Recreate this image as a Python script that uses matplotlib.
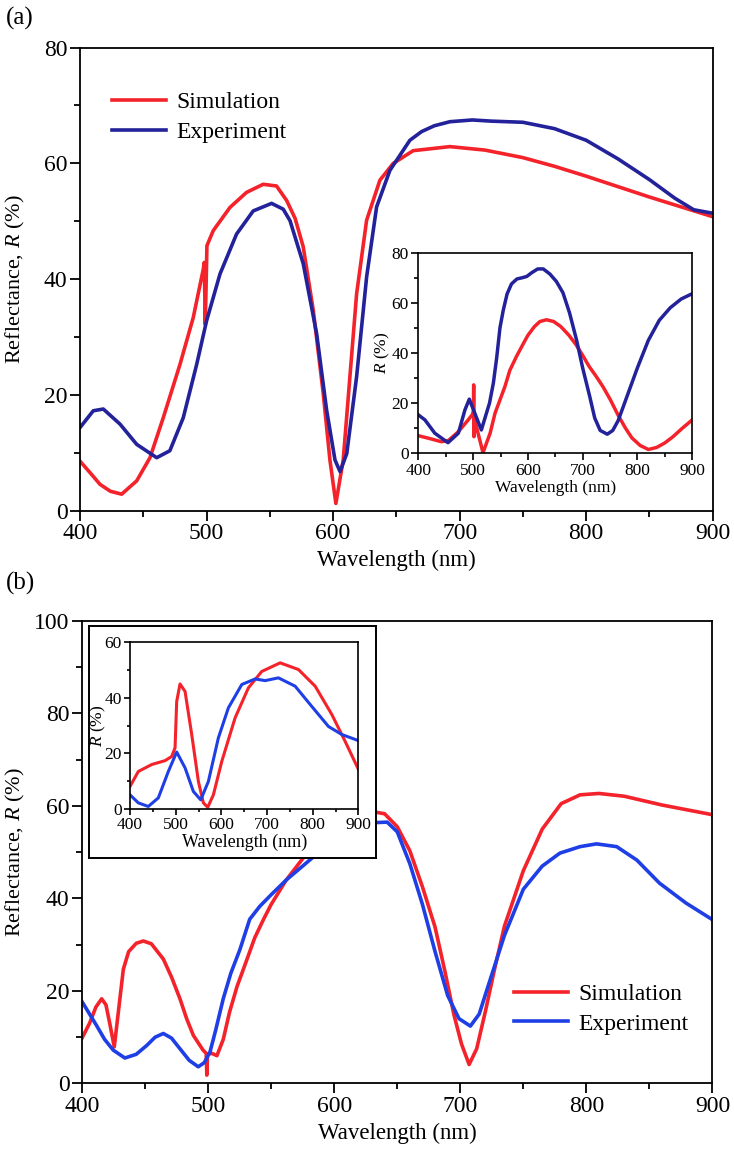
import matplotlib
matplotlib.use('Agg')
import matplotlib.pyplot as plt
from matplotlib.ticker import MultipleLocator

plt.rcParams['font.family'] = 'Liberation Serif'
plt.rcParams['mathtext.fontset'] = 'custom'
plt.rcParams['mathtext.rm'] = 'Liberation Serif'
plt.rcParams['mathtext.it'] = 'Liberation Serif:italic'

RED = '#f4222a'
BLUE_A = '#23229a'
BLUE_B = '#1f3fe6'

# ---- panel (a), main plot
a_sim_x = [400, 408, 415.8, 424, 432.9, 444.8, 455.3, 465.8, 479, 489.5, 497.4, 498.2, 499, 500.3,
           505.3, 518.5, 531.6, 544.8, 555.3, 563.3, 570, 576.4, 584.3, 592.2, 597.5, 602.2,
           608, 613.3, 618.6, 626.5, 637, 647.5, 663.3, 692.3, 720, 750, 775, 800, 850, 900]
a_sim_y = [8.6, 6.6, 4.6, 3.4, 2.9, 5.2, 9.2, 16.1, 25.3, 33.4, 41.7, 42.9, 32.2, 45.8,
           48.4, 52.4, 55, 56.4, 56.1, 53.6, 50.5, 45.6, 34.7, 20.3, 8.8, 1.3,
           8.8, 23.2, 37.5, 50.2, 57.1, 60, 62.2, 62.9, 62.3, 61, 59.5, 57.8, 54.2, 50.8]
a_exp_x = [400, 410.5, 418.4, 431.6, 444.8, 460.6, 471, 481.6, 492.2, 500, 510.6, 523.7, 536.9,
           551.4, 560.6, 566, 576.4, 587, 594.9, 601.5, 605.5, 610.8, 618.6, 626.5, 634.4,
           644.9, 660.7, 670, 680, 692.3, 710, 725, 750, 775, 800, 825, 850, 870, 885, 900]
a_exp_y = [14.4, 17.3, 17.6, 15, 11.5, 9.2, 10.4, 16.1, 25.3, 32.8, 40.9, 47.8, 51.8,
           53.1, 52.1, 50.1, 42.7, 30.6, 17.4, 8.8, 6.8, 9.9, 23.2, 40.4, 52.5,
           58.8, 64, 65.5, 66.5, 67.2, 67.5, 67.3, 67.1, 66, 64, 60.8, 57.2, 54, 52, 51.4]

# ---- panel (a), inset
ai_sim_x = [400, 420, 442, 455, 473, 491, 499, 500.5, 501, 501.5, 502, 510, 518, 531, 540, 558,
            567, 579, 590, 600, 612, 622, 634, 647, 660, 675, 688, 700, 712, 725, 737, 750, 765,
            778, 790, 805, 820, 835, 850, 865, 880, 900]
ai_sim_y = [6.9, 5.8, 4.5, 5.0, 8.5, 13.2, 15.5, 17, 27.2, 6.5, 14, 7, 0.1, 7.9, 15.9, 26.5,
            33, 38.5, 43, 47, 50.5, 52.5, 53.2, 52.5, 50.5, 47, 43.2, 39, 34.5, 30.5, 26.5, 21.5,
            15, 10, 6, 3, 1.4, 2.2, 4, 6.5, 9.5, 13.2]
ai_exp_x = [400, 412, 430, 454, 473, 485, 493, 503, 515, 530, 537, 543, 549, 555, 562, 570, 580,
            590, 598, 607, 618, 628, 640, 652, 664, 676, 689, 700, 713, 722, 732, 745, 755, 765,
            780, 800, 820, 840, 860, 880, 900]
ai_exp_y = [15.2, 13.2, 7.9, 4.1, 7.9, 17.2, 21.5, 15.9, 9.2, 20, 28, 38, 50, 57, 63.5, 67.5,
            69.5, 70, 70.5, 72, 73.5, 73.5, 71.5, 68.5, 64, 56, 45, 34, 22.5, 14, 9, 7.5, 9, 13,
            22, 34, 45, 53, 58, 61.5, 63.6]

# ---- panel (b), main plot
b_sim_x = [400, 406, 411, 415.6, 419, 422, 425.6, 432.8, 437, 443, 448.6, 455, 464.5, 471, 477.7,
           483, 488.3, 496, 498.5, 499, 499.5, 503, 507, 512, 517, 523, 530, 537, 544, 550, 562,
           575, 590, 605, 620, 630, 640, 650, 660, 670, 680, 688, 695, 701, 707, 713, 720, 727,
           735, 750, 765, 780, 795, 810, 830, 860, 900]
b_sim_y = [9.8, 13, 16.5, 18.3, 17, 13, 7.9, 24.7, 28.5, 30.3, 30.8, 30.2, 26.9, 23, 18.3,
           14, 10.4, 7.2, 6.5, 1.8, 6.3, 6.5, 6.0, 9.5, 15.4, 21, 26.2, 31.5, 35.5, 38.7, 44,
           48.6, 53.5, 56.8, 58.5, 58.8, 58.3, 55.5, 50.3, 42.5, 33.8, 24, 14.8, 8.5, 4.1, 7.5,
           15.7, 24.5, 34, 46, 55, 60.5, 62.4, 62.7, 62.1, 60.2, 58.1]
b_exp_x = [400, 411.6, 418, 424.8, 434, 443, 451.3, 458, 464.5, 471, 477.7, 485, 492.2, 497,
           501.5, 506, 512, 518, 525.3, 533, 541, 550, 562, 575, 590, 605, 620, 633, 642, 650,
           660, 670, 680, 690, 699, 708, 715, 722, 735, 750, 765, 779, 795, 808, 824, 840, 858,
           879, 900]
b_exp_y = [17.7, 12.5, 9.5, 7.2, 5.5, 6.3, 8.2, 10, 10.8, 9.8, 7.5, 5, 3.6, 4.5,
           6.8, 11.5, 18.3, 23.8, 29, 35.5, 38.3, 40.8, 44, 47, 50.5, 53, 55.5, 56.4, 56.5, 54.4,
           47.5, 38.7, 28.5, 19, 14, 12.4, 15, 21, 32, 42, 47, 49.8, 51.2, 51.8, 51.2, 48.3, 43.3,
           39, 35.4]

# ---- panel (b), inset
bi_sim_x = [400, 418.2, 447.5, 476.7, 491.3, 498.6, 502.2, 509.5, 520.5, 535.1, 549.7, 560.6,
            570.1, 582.5, 600.8, 630, 659.1, 688.3, 728.5, 768.6, 805.2, 841.7, 870.9, 900]
bi_sim_y = [8.1, 13.5, 16, 17.4, 18.9, 22, 38.7, 45, 42.3, 26.8, 9.9, 2.2,
            0.6, 5.1, 17.1, 32.8, 43.6, 49.5, 52.6, 50.2, 44.2, 34, 24.3, 14.2]
bi_exp_x = [400, 418.2, 440, 462, 483.9, 502.2, 520.5, 538.7, 554.8, 571.5, 593.4, 615.3, 644.6,
            673.8, 695.7, 724.8, 761.4, 797.9, 834.3, 863.6, 900]
bi_exp_y = [5.1, 2.2, 0.9, 4, 13.5, 20.5, 14.8, 6.3, 3.3, 9.9, 25.6, 36.4, 44.8,
            46.8, 46.2, 47.2, 44.2, 36.9, 29.7, 26.8, 24.6]

labels = ['Simulation', 'Experiment']


def style(ax, fs, ymaj, ymin, lw=1.3, maj=7, mnr=4):
    ax.set_xlim(400, 900)
    ax.xaxis.set_major_locator(MultipleLocator(100))
    ax.xaxis.set_minor_locator(MultipleLocator(50))
    ax.yaxis.set_major_locator(MultipleLocator(ymaj))
    ax.yaxis.set_minor_locator(MultipleLocator(ymin))
    ax.tick_params(which='both', direction='out', top=False, right=False,
                   labelsize=fs, width=lw, pad=2)
    ax.tick_params(which='major', length=maj)
    ax.tick_params(which='minor', length=mnr)
    for s in ax.spines.values():
        s.set_linewidth(lw)


fig = plt.figure(figsize=(7.34, 11.6), dpi=100)

# (a) main
ax1 = fig.add_axes([0.109, 0.5595, 0.862, 0.3995])
ax1.plot(a_sim_x, a_sim_y, color=RED, lw=2.6, label=labels[0])
ax1.plot(a_exp_x, a_exp_y, color=BLUE_A, lw=2.6, label=labels[1])
ax1.set_ylim(0, 80)
style(ax1, 17, 20, 10)
ax1.set_xlabel('Wavelength (nm)', fontsize=16.5, labelpad=4)
ax1.set_ylabel('Reflectance, $\\mathit{R}$ (%)', fontsize=16)
ax1.yaxis.set_label_coords(-0.083, 0.5)
ax1.legend(loc='center left', bbox_to_anchor=(0.05, 0.849), frameon=False, fontsize=17,
           handlelength=2.3, handletextpad=0.45, labelspacing=0.35, borderpad=0, borderaxespad=0)
fig.text(0.008, 0.984, '(a)', fontsize=18, va='center')

# (a) inset
ax2 = fig.add_axes([0.570, 0.6095, 0.373, 0.1727])
ax2.plot(ai_sim_x, ai_sim_y, color=RED, lw=2.5)
ax2.plot(ai_exp_x, ai_exp_y, color=BLUE_A, lw=2.5)
ax2.set_ylim(0, 80)
style(ax2, 12.5, 20, 10, lw=1.2, maj=5, mnr=3)
ax2.set_xlabel('Wavelength (nm)', fontsize=12.5, labelpad=1)
ax2.set_ylabel('$\\mathit{R}$ (%)', fontsize=12.5)
ax2.yaxis.set_label_coords(-0.095, 0.5)

# (b) main
ax3 = fig.add_axes([0.1117, 0.066, 0.859, 0.3987])
ax3.plot(b_sim_x, b_sim_y, color=RED, lw=2.6, label=labels[0])
ax3.plot(b_exp_x, b_exp_y, color=BLUE_B, lw=2.6, label=labels[1])
ax3.set_ylim(0, 100)
style(ax3, 17, 20, 10)
ax3.set_xlabel('Wavelength (nm)', fontsize=16.5, labelpad=4)
ax3.set_ylabel('Reflectance, $\\mathit{R}$ (%)', fontsize=16)
ax3.yaxis.set_label_coords(-0.087, 0.5)
ax3.legend(loc='center left', bbox_to_anchor=(0.685, 0.161), frameon=False, fontsize=17,
           handlelength=2.3, handletextpad=0.45, labelspacing=0.35, borderpad=0, borderaxespad=0)
fig.text(0.008, 0.497, '(b)', fontsize=18, va='center')

# (b) inset frame and inset
box = fig.add_axes([0.1213, 0.2603, 0.391, 0.2])
box.set_xticks([])
box.set_yticks([])
for s in box.spines.values():
    s.set_linewidth(1.4)

ax4 = fig.add_axes([0.1771, 0.3026, 0.3113, 0.1437])
ax4.plot(bi_sim_x, bi_sim_y, color=RED, lw=2.2)
ax4.plot(bi_exp_x, bi_exp_y, color=BLUE_B, lw=2.2)
ax4.set_ylim(0, 60)
style(ax4, 12.5, 20, 10, lw=1.2, maj=4, mnr=2.5)
ax4.set_xlabel('Wavelength (nm)', fontsize=13, labelpad=0)
ax4.set_ylabel('$\\mathit{R}$ (%)', fontsize=12.5)
ax4.yaxis.set_label_coords(-0.095, 0.5)

fig.savefig('out.png', dpi=100)
